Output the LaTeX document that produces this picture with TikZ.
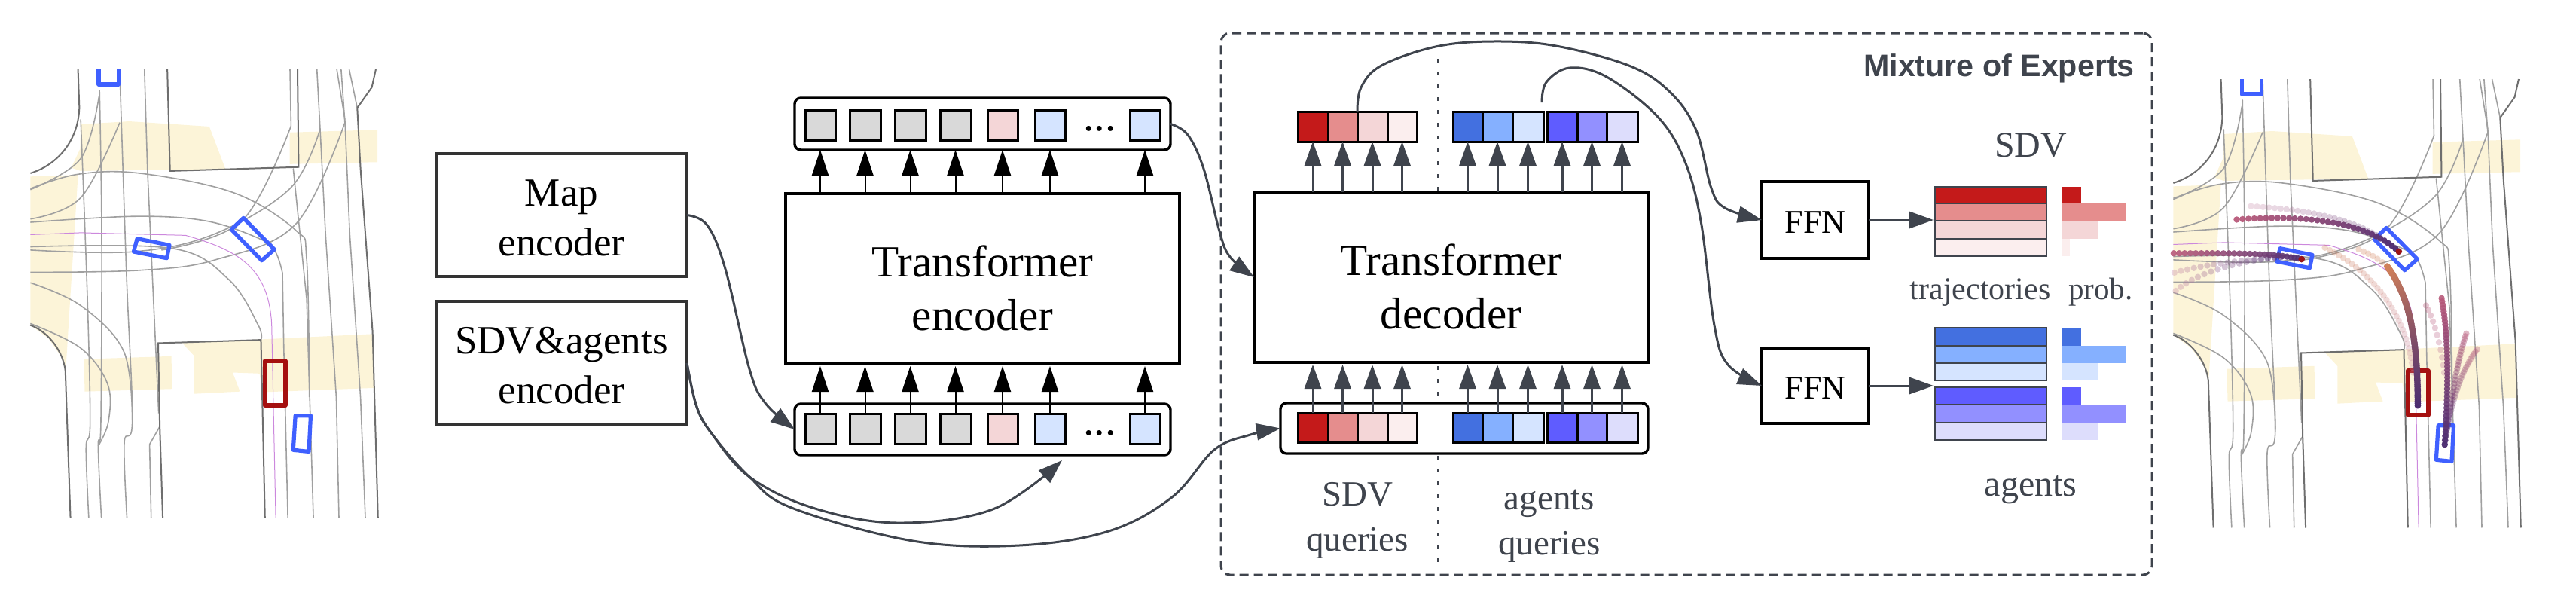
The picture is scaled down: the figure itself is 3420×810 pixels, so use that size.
\documentclass[tikz,border=0pt]{standalone}
\usepackage{fontspec}
\setmainfont{Liberation Serif}
\setsansfont{Liberation Sans}
\usetikzlibrary{arrows.meta}
\definecolor{ink}{HTML}{3F444D}
\definecolor{rA}{HTML}{C41A1A}\definecolor{rB}{HTML}{E58D8D}\definecolor{rC}{HTML}{F4D6D7}\definecolor{rD}{HTML}{FBEEEE}
\definecolor{bA}{HTML}{4370E0}\definecolor{bB}{HTML}{85B0FF}\definecolor{bC}{HTML}{D5E4FF}
\definecolor{pA}{HTML}{5F5CFF}\definecolor{pB}{HTML}{9290FF}\definecolor{pC}{HTML}{DDDDFC}
\definecolor{tokgray}{HTML}{D9D9D9}
\definecolor{walk}{HTML}{FCF4D8}\definecolor{laneD}{HTML}{6E6E6E}\definecolor{laneL}{HTML}{A0A0A0}
\definecolor{route}{HTML}{CC88DD}\definecolor{agentb}{HTML}{3F60FF}\definecolor{egor}{HTML}{A51010}
\definecolor{trDark}{HTML}{4B2C70}\definecolor{trRose}{HTML}{B85A7A}\definecolor{trOr}{HTML}{D0805A}\definecolor{trPink}{HTML}{C88AA8}
\tikzset{
  mainbox/.style={draw=black,line width=1.8pt,fill=white},
  encbox/.style={draw=black!80,line width=1.6pt,fill=white},
  enclabel/.style={font=\fontsize{26.5}{33}\selectfont,align=center},
  trlabel/.style={font=\fontsize{29.6}{35.5}\selectfont,align=center},
  ffnlabel/.style={font=\fontsize{22}{26}\selectfont},
  stripbox/.style={draw=black,line width=1.7pt,rounded corners=4pt,fill=white},
  tok/.style={draw=black,line width=1.5pt},
  cellbox/.style={draw=ink,line width=1pt},
  barbox/.style={draw=none},
  upk/.style={-{Triangle[length=17pt,width=11pt]},draw=black,line width=1pt},
  upg/.style={-{Triangle[length=16pt,width=11pt]},draw=ink,fill=ink,line width=1.5pt},
  flow/.style={-{Triangle[length=16pt,width=11pt]},draw=ink,line width=1.5pt},
  graytext/.style={text=ink,align=center},
  lane/.style={draw=laneL,line width=.8pt},
  laned/.style={draw=laneD,line width=1pt},
}
\newcommand\pxbox[7][]{\node[#1,inner sep=0pt,outer sep=0pt,minimum width={(#5-#3)*.5pt},minimum height={(#6-#4)*.5pt},align=center] (#2) at ({(#3+#5)/2},{(#4+#6)/2}) {#7};}
\newcommand\pl[1]{plot[smooth,tension=.6] coordinates {#1}}
\newcommand\mapscene{%
  \fill[walk] (300,265)--(480,256)--(778,272)--(838,402)--(300,408)--(265,398)--(298,340)--cycle;
  \fill[walk] (113,425)--(290,420)--(245,1010)--(235,985)--(180,920)--(113,880)--cycle;
  \fill[walk] (1077,290)--(1403,282)--(1403,381)--(1077,387)--cycle;
  \fill[walk] (312,984)--(637,975)--(640,1075)--(315,1083)--cycle;
  \fill[walk] (678,935)--(1385,907)--(1392,1072)--(975,1085)--(965,1028)--(865,1025)--(892,1083)--(723,1090)--(723,975)--cycle;
  % lanes
  \draw[lane] \pl{(300,250)(325,800)(335,1180)(320,1255)(330,1470)};
  \draw[lane] \pl{(370,160)(378,600)(375,1180)(365,1250)(377,1470)};
  \draw[lane] \pl{(445,97)(470,720)(492,1170)(462,1240)(472,1470)};
  \draw[lane] (537,97)--(548,400)--(590,1150);
  \draw[lane] (594,1190)--(556,1245)--(562,1470);
  \draw[lane] (1078,97)--(1082,270);
  \draw[lane] (1090,400)--(1140,800)--(1165,1470);
  \draw[lane] (1178,97)--(1190,280)--(1210,600)--(1250,1100)--(1260,1470);
  \draw[lane] (1252,97)--(1282,250)--(1300,600)--(1340,1100)--(1358,1470);
  \draw[lane] (1268,97)--(1282,260);
  \draw[lane] (1298,97)--(1328,215);
  \draw[lane] (1050,720)--(1055,950)--(1070,1470);
  \draw[lane] \pl{(113,565)(500,547)(760,560)(950,610)(1020,650)(1050,720)};
  \draw[lane] \pl{(113,650)(500,655)(800,600)(1080,460)(1190,280)};
  \draw[lane] \pl{(113,718)(520,712)(800,680)(1100,570)(1282,260)};
  \draw[lane] \pl{(113,462)(290,418)(520,415)(870,475)(1100,590)(1140,680)(1150,1100)};
  \draw[lane] \pl{(113,640)(640,645)(850,740)(960,880)(970,925)};
  \draw[lane] \pl{(113,750)(300,820)(460,960)(492,1170)};
  \draw[lane] \pl{(113,875)(300,950)(400,1060)(403,1175)(365,1250)};
  \draw[lane] \pl{(113,555)(300,490)(445,260)};
  \draw[lane] \pl{(113,465)(300,370)(368,180)};
  \draw[lane] \pl{(600,650)(900,560)(1082,270)};
  % kerbs
  \draw[laned] (290,97)--(295,215) .. controls (290,320) and (210,390) .. (113,415);
  \draw[laned] (622,97)--(632,408)--(1110,396)--(1106,97);
  \draw[laned] (1397,97)--(1382,152)--(1328,215)--(1340,400)--(1385,900)--(1405,1470);
  \draw[laned] (113,880) .. controls (180,900) and (235,960) .. (243,1020)--(262,1470);
  \draw[laned] (970,925)--(588,935)--(594,1190)--(605,1470);
  \draw[laned] (970,925)--(985,1470);
  % route
  \draw[route,line width=.5pt] (113,603)--(300,597)--(690,605) .. controls (880,650) and (1000,700) .. (1010,880)--(1025,1470);
  % vehicles
  \draw[agentb,line width=2.6pt,line join=round] (367,97)--(367,143)--(441,143)--(441,97);
  \draw[agentb,line width=2.6pt,line join=round] (510,615)--(630,635)--(620,675)--(497,655)--cycle;
  \draw[agentb,line width=2.6pt,line join=round] (905,552)--(1020,648)--(973,682)--(860,587)--cycle;
  \draw[agentb,line width=2.6pt,line join=round] (1098,1157)--(1155,1157)--(1148,1267)--(1090,1262)--cycle;
  \draw[egor,line width=3pt,line join=round] (985,990) rectangle (1060,1125);
}
\def\tset#1#2#3#4#5{\def\tcA{#1}\def\tcB{#2}\def\tcO{#3}\def\tcN{#4}\def\tcR{#5}}
\def\bezd(#1,#2)(#3,#4)(#5,#6)(#7,#8){%
  \foreach \ii in {0,...,\tcN}{%
    \pgfmathsetmacro\tpar{\ii/\tcN}%
    \pgfmathsetmacro\upar{1-\tpar}%
    \pgfmathsetmacro\xpar{\upar*\upar*\upar*#1+3*\upar*\upar*\tpar*#3+3*\upar*\tpar*\tpar*#5+\tpar*\tpar*\tpar*#7}%
    \pgfmathsetmacro\ypar{\upar*\upar*\upar*#2+3*\upar*\upar*\tpar*#4+3*\upar*\tpar*\tpar*#6+\tpar*\tpar*\tpar*#8}%
    \pgfmathsetmacro\mpar{100*\tpar}%
    \fill[fill={\tcB!\mpar!\tcA},opacity=\tcO] (\xpar,\ypar) circle[radius=\tcR];
  }}
\begin{document}
\begin{tikzpicture}[x=.5pt,y=-.5pt]
\useasboundingbox (0,0) rectangle (3420,810);
% scenes
\begin{scope}[x=.17857pt,y=-.21683pt,shift={(0pt,-25pt)}]
  \mapscene
\end{scope}
\begin{scope}[x=.17857pt,y=-.21683pt,shift={(1422.5pt,-31.5pt)}]
  \mapscene
\end{scope}
\begin{scope}[x=.17218pt,y=-.2073pt,shift={(1440pt,-40pt)}]
  \tset{trOr}{trOr}{.3}{6}{2.1pt}\bezd(840,660)(800,630)(770,620)(730,605)
  \tset{trPink}{trOr}{.3}{32}{2.1pt}\bezd(940,1000)(920,830)(800,680)(600,600)
  \tset{trPink}{trRose}{.35}{10}{2.1pt}\bezd(1060,1000)(1050,920)(1020,830)(990,785)
  \tset{trDark}{trOr}{1}{90}{2.2pt}\bezd(958,1105)(958,900)(930,760)(840,660)
  \tset{trDark}{trRose}{.9}{40}{2.1pt}\bezd(1062,1230)(1075,1050)(1080,900)(1050,762)
  \tset{trDark}{trRose}{.45}{30}{2.1pt}\bezd(1062,1230)(1085,1100)(1110,960)(1145,875)
  \tset{trDark}{trRose}{.35}{30}{2.1pt}\bezd(1062,1230)(1085,1100)(1120,1000)(1187,925)
  \tset{trDark}{trPink}{.3}{30}{2.1pt}\bezd(885,612)(750,510)(550,480)(315,467)
  \tset{trDark}{trRose}{.95}{32}{2.1pt}\bezd(885,612)(750,510)(500,495)(260,510)
  \tset{trDark}{trPink}{.35}{16}{2.1pt}\bezd(430,630)(300,640)(150,650)(20,680)
  \tset{trDark}{trPink}{.35}{16}{2.1pt}\bezd(430,630)(300,640)(120,670)(25,738)
  \tset{trDark}{trRose}{.9}{26}{2.1pt}\bezd(510,637)(400,615)(200,618)(17,618)
  \fill[rA!80!black] (510,637) circle[radius=2.1pt];
  \fill[rA!80!black] (885,612) circle[radius=2.1pt];
\end{scope}
% mixture box and divider
\pxbox[draw=ink,line width=1.5pt,dash pattern=on 6pt off 3.5pt,rounded corners=6pt]{moe}{1621}{44}{2857}{763}{}
\coordinate (divT) at (1909,78);
\coordinate (divB) at (1909,750);
\draw[ink,line width=1.5pt,dash pattern=on 2.5pt off 6pt] (divT)--(divB);
\node[anchor=base,font=\sffamily\bfseries\fontsize{20.6}{24}\selectfont,text=ink] (moet) at (2654,101) {Mixture of Experts};
% encoders
\pxbox[encbox]{mapenc}{579}{204}{912}{367}{}
\pxbox[encbox]{sdvenc}{579}{400}{912}{564}{}
\node[enclabel,yshift=-2pt] (mapl) at (mapenc.center) {Map\\encoder};
\node[enclabel,yshift=-1.5pt] (sdvl) at (sdvenc.center) {SDV\&agents\\encoder};
% transformer encoder
\pxbox[mainbox]{tenc}{1043}{257}{1566}{483}{}
\node[trlabel,yshift=-6pt] (tencl) at (tenc.center) {Transformer\\encoder};
\pxbox[stripbox]{stripT}{1055}{130}{1554}{199}{}
\pxbox[stripbox]{stripB}{1055}{536}{1554}{604}{}
\foreach \n/\a/\b/\c in {a/1069/1109/tokgray,b/1128/1169/tokgray,c/1188/1229/tokgray,d/1248/1289/tokgray,e/1311/1351/rC,f/1374/1414/bC,g/1500/1540/bC}{
  \pxbox[tok,fill=\c]{et\n}{\a}{146}{\b}{186}{}
  \pxbox[tok,fill=\c]{eb\n}{\a}{549}{\b}{589}{}
  \draw[upk] (et\n.center |- tenc.north) -- (et\n.center |- stripT.south);
  \draw[upk,shorten >=1.5pt] (eb\n.north) -- (eb\n.center |- tenc.south);
}
\node[font=\fontsize{29}{35}\selectfont] (dotsT) at (1460,171) {...};
\node[font=\fontsize{29}{35}\selectfont] (dotsB) at (1460,575) {...};
% transformer decoder
\pxbox[mainbox]{tdec}{1665}{255}{2188}{481}{}
\node[trlabel,yshift=-6pt] (tdecl) at (tdec.center) {Transformer\\decoder};
\pxbox[stripbox]{stripQ}{1700}{535}{2188}{602}{}
\foreach \n/\a/\b/\c in {a/1723/1763/rA,b/1763/1802/rB,c/1802/1842/rC,d/1842/1881/rD,e/1929/1968/bA,f/1968/2008/bB,g/2008/2049/bC,h/2054/2094/pA,i/2094/2133/pB,j/2133/2174/pC}{
  \pxbox[tok,fill=\c]{dt\n}{\a}{148}{\b}{188}{}
  \pxbox[tok,fill=\c]{db\n}{\a}{548}{\b}{587}{}
  \draw[upg] (dt\n.center |- tdec.north) -- (dt\n.south);
  \draw[upg,shorten >=1.5pt] (db\n.north) -- (db\n.center |- tdec.south);
}
\node[graytext,font=\fontsize{23.5}{30}\selectfont] (qs) at (1802,691) {SDV\\queries};
\node[graytext,font=\fontsize{23.5}{30}\selectfont] (qa) at (2057,698) {agents\\queries};
% FFN
\pxbox[mainbox,line width=2pt]{ffnA}{2339}{241}{2481}{343}{}
\pxbox[mainbox,line width=2pt]{ffnB}{2339}{462}{2481}{562}{}
\node[ffnlabel,yshift=-1.5pt] (ffnAl) at (ffnA.center) {FFN};
\node[ffnlabel,yshift=-1.5pt] (ffnBl) at (ffnB.center) {FFN};
% trajectory stacks and probabilities
\foreach \n/\t/\b/\c/\e in {a/248/270/rA/2763,b/270/293/rB/2821.5,c/293/317/rC/2785,d/317/340/rD/2748,
  e/435/459/bA/2763,f/459/482/bB/2821.5,g/482/505/bC/2785,h/514/537/pA/2763,i/537/561/pB/2821.5,j/561/584/pC/2785}{
  \pxbox[cellbox,fill=\c]{st\n}{2569}{\t}{2717}{\b}{}
  \pxbox[barbox,fill=\c]{pr\n}{2738}{\t}{\e}{\b}{}
}
\node[text=ink,anchor=base,font=\fontsize{24}{28}\selectfont] (lsdv) at (2696,208) {SDV};
\node[text=ink,anchor=base,font=\fontsize{24}{28}\selectfont] (lag) at (2696,658) {agents};
\node[text=ink,anchor=base,font=\fontsize{21}{25}\selectfont] (ltr) at (2629,397) {trajectories};
\node[text=ink,anchor=base,font=\fontsize{20.5}{25}\selectfont] (lpr) at (2789,397) {prob.};
% connectors
\coordinate (stripIn) at (1410,611);
\coordinate (sdvIn) at (2567,292);
\coordinate (agIn) at (2567,512);
\draw[flow] \pl{(mapenc.east)(939,299)(963,357)(995,490)(1016,535)(stripB.west)};
\draw[flow] \pl{(sdvenc.east)(925,540)(946,577)(995,633)(1079,674)(1191,694)(1318,676)(stripIn)};
\draw[flow] \pl{(sdvenc.east)(925,540)(946,577)(995,633)(1051,674)(1212,718)(1353,724)(1472,705)(1556,660)(1612,597)(1660,577)(stripQ.west)};
\draw[flow] \pl{(stripT.east)(1577,179)(1598,224)(1619,307)(1633,341)(tdec.west)};
\draw[flow] \pl{(dtc.north west)(1807,116)(1834,87)(1906,62)(1982,55)(2066,61)(2165,88)(2218,123)(2252,173)(2272,250)(2290,276)(ffnA.west)};
\coordinate (agOut) at (2047,136);
\draw[flow] \pl{(agOut)(2053,109)(2084,90)(2133,102)(2200,154)(2236,212)(2258,293)(2276,432)(2294,484)(ffnB.west)};
\draw[flow] (ffnA.east) -- (sdvIn);
\draw[flow] (ffnB.east) -- (agIn);
\end{tikzpicture}
\end{document}
